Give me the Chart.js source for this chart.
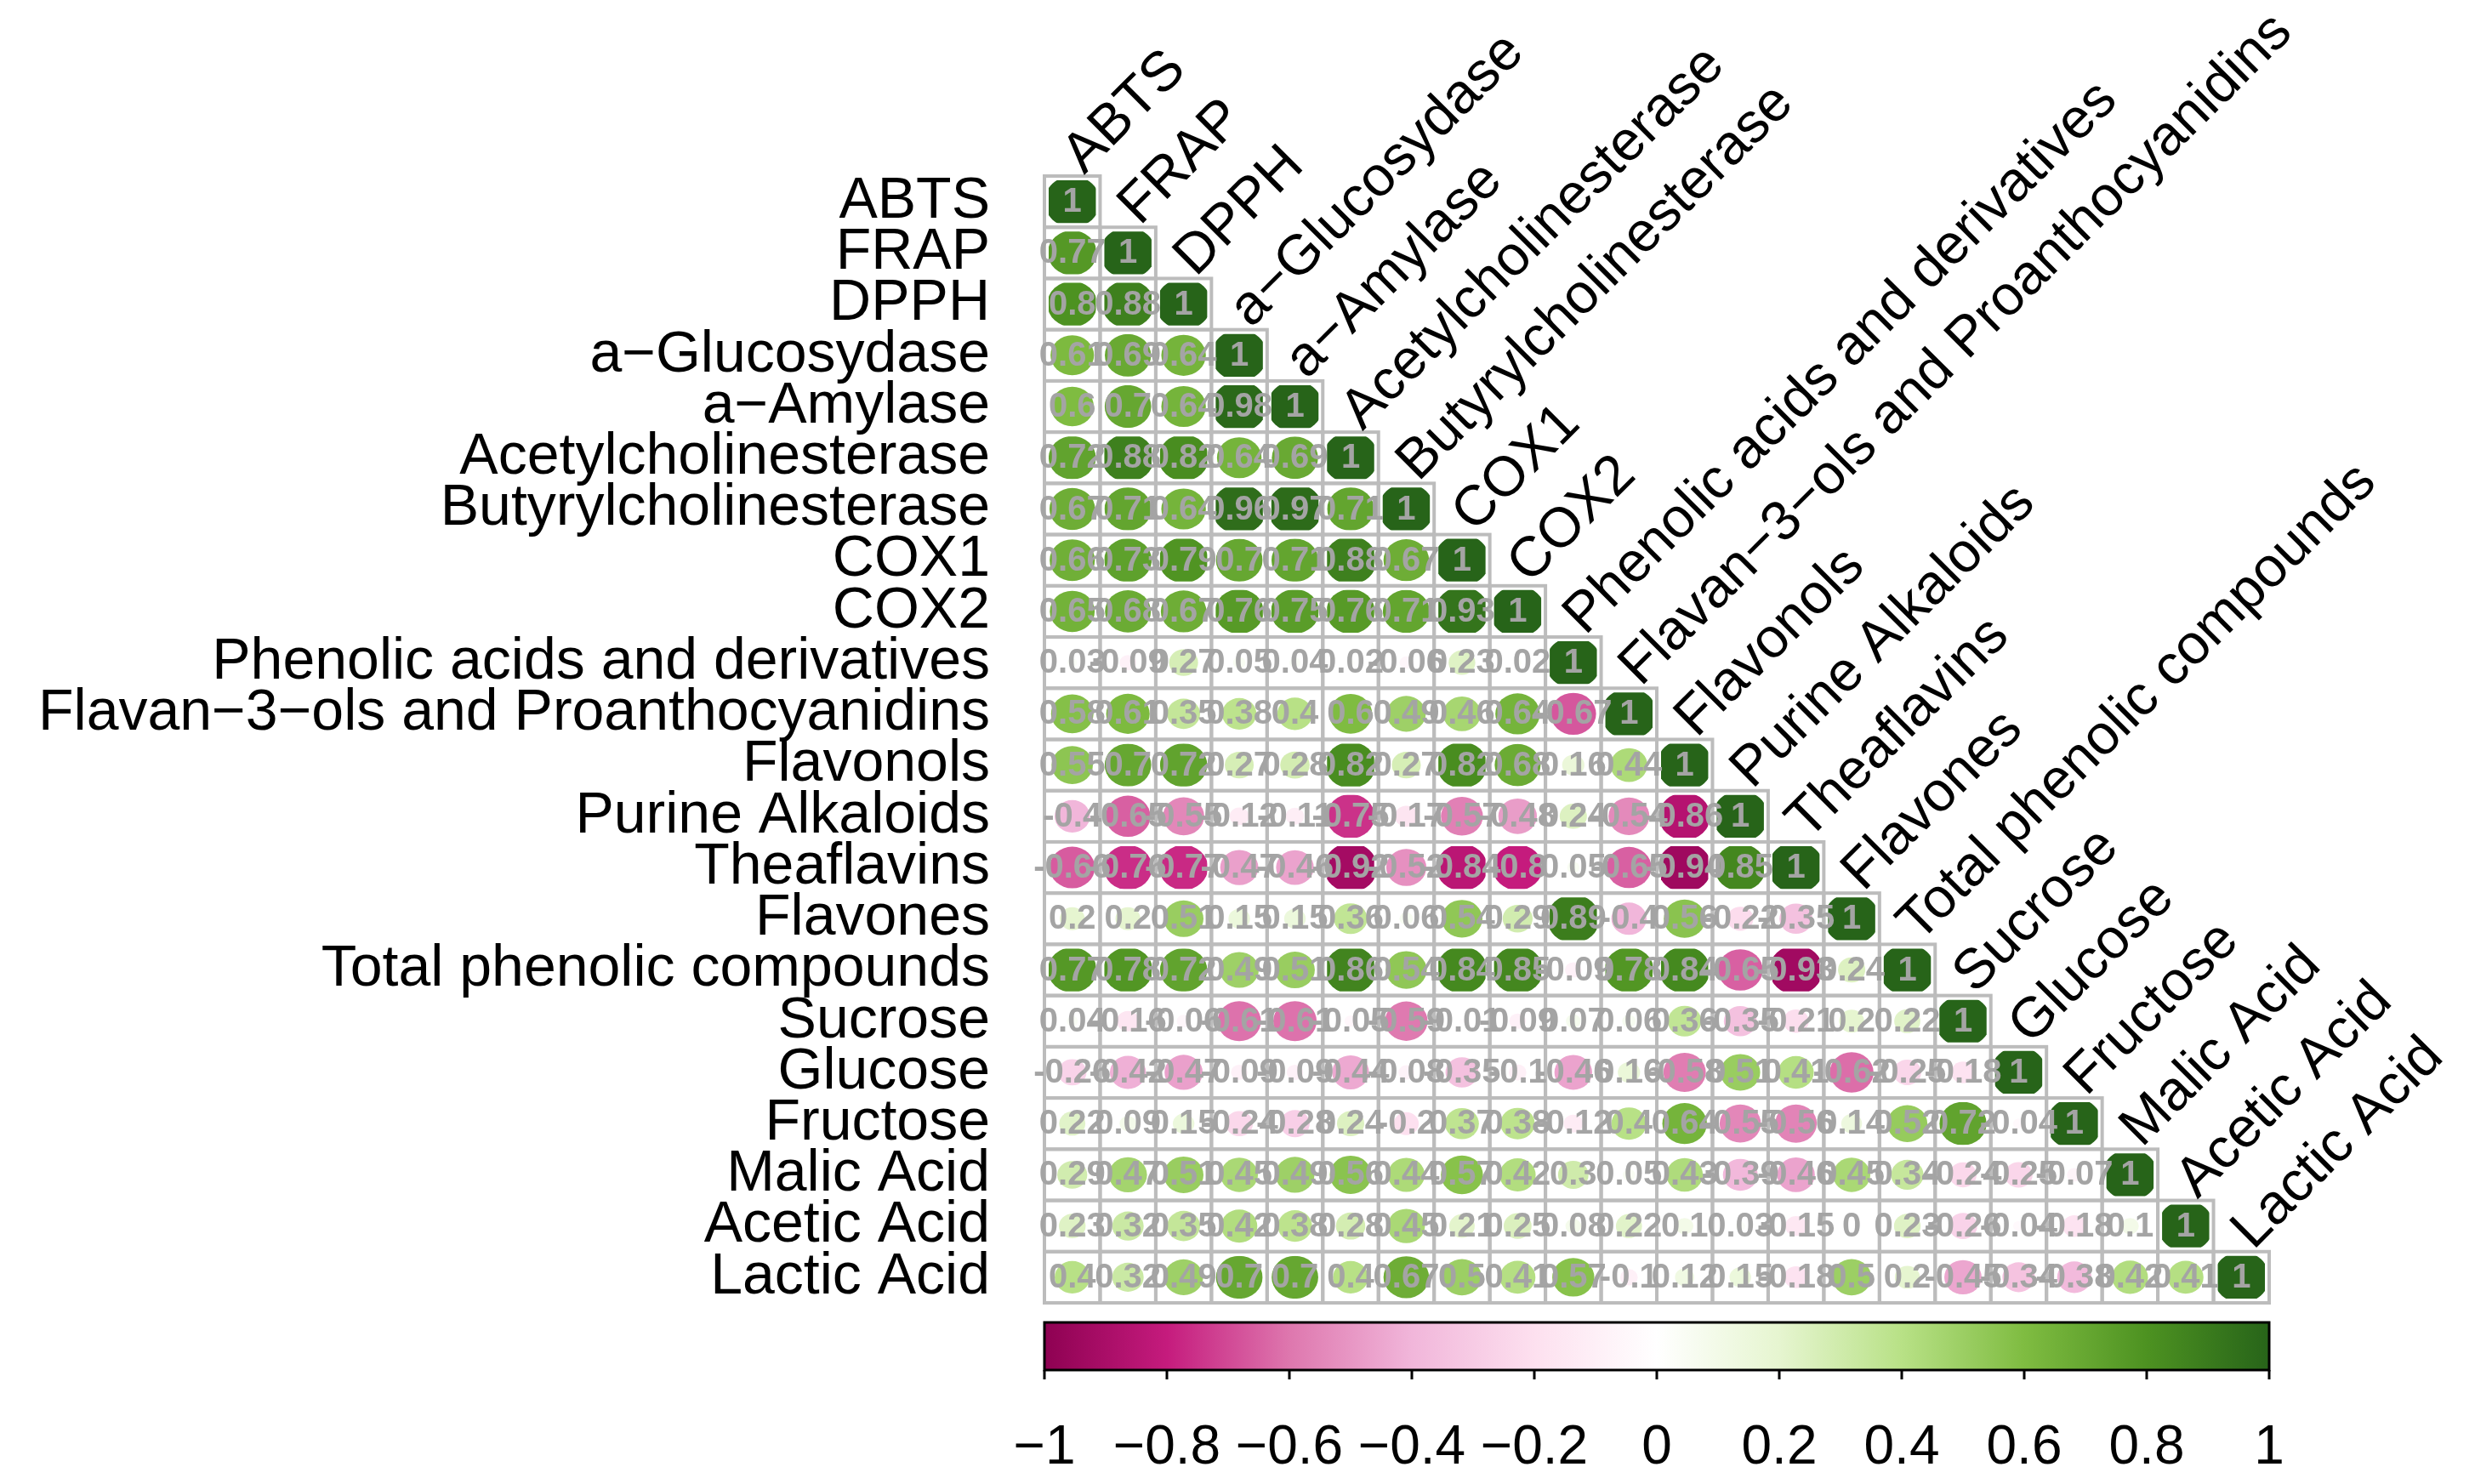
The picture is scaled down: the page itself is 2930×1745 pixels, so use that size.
<!DOCTYPE html>
<html>
<head>
<meta charset="utf-8">
<script src="https://cdn.jsdelivr.net/npm/chart.js@4.4.1/dist/chart.umd.min.js"></script>
<style>
  html, body { margin: 0; padding: 0; background: #fff; }
</style>
</head>
<body>
<canvas id="corrChart" width="2930" height="1745"></canvas>
<script>
// variable names, in row / column order
const variables = [
  'ABTS', 'FRAP', 'DPPH', 'a\u2212Glucosydase', 'a\u2212Amylase', 'Acetylcholinesterase',
  'Butyrylcholinesterase', 'COX1', 'COX2', 'Phenolic acids and derivatives',
  'Flavan\u22123\u2212ols and Proanthocyanidins', 'Flavonols', 'Purine Alkaloids', 'Theaflavins',
  'Flavones', 'Total phenolic compounds', 'Sucrose', 'Glucose', 'Fructose',
  'Malic Acid', 'Acetic Acid', 'Lactic Acid'
];

// lower triangle, one row per variable
const abts = [1];
const frap = [0.77, 1];
const dpph = [0.80, 0.88, 1];
const glucosydase = [0.61, 0.69, 0.64, 1];
const amylase = [0.60, 0.70, 0.64, 0.98, 1];
const acetylch = [0.72, 0.88, 0.82, 0.64, 0.69, 1];
const butyrylch = [0.67, 0.71, 0.64, 0.96, 0.97, 0.71, 1];
const cox1 = [0.66, 0.73, 0.79, 0.70, 0.71, 0.88, 0.67, 1];
const cox2 = [0.65, 0.68, 0.67, 0.76, 0.75, 0.76, 0.71, 0.93, 1];
const phenolicAcids = [0.03, -0.09, 0.27, 0.05, 0.04, 0.02, -0.06, 0.23, 0.02, 1];
const flavanols = [0.58, 0.61, 0.35, 0.38, 0.40, 0.60, 0.49, 0.46, 0.64, -0.67, 1];
const flavonols = [0.55, 0.70, 0.72, 0.27, 0.28, 0.82, 0.27, 0.82, 0.68, 0.16, 0.44, 1];
const purine = [-0.40, -0.65, -0.55, -0.12, -0.11, -0.75, -0.17, -0.57, -0.48, 0.24, -0.54, -0.86, 1];
const theaflavins = [-0.66, -0.76, -0.77, -0.47, -0.46, -0.92, -0.52, -0.84, -0.80, 0.05, -0.65, -0.94, 0.85, 1];
const flavones = [0.20, 0.20, 0.51, 0.15, 0.15, 0.36, 0.06, 0.54, 0.29, 0.89, -0.40, 0.56, -0.22, -0.35, 1];
const totalPhenolic = [0.77, 0.78, 0.72, 0.49, 0.51, 0.86, 0.54, 0.84, 0.85, -0.09, 0.78, 0.84, -0.65, -0.93, 0.24, 1];
const sucrose = [0.04, -0.16, -0.06, -0.61, -0.61, -0.05, -0.59, -0.01, -0.09, 0.07, 0.06, 0.36, -0.35, -0.21, 0.20, 0.22, 1];
const glucose = [-0.26, -0.42, -0.47, -0.09, -0.09, -0.44, -0.08, -0.35, -0.10, -0.46, 0.16, -0.58, 0.51, 0.41, -0.62, -0.25, -0.18, 1];
const fructose = [0.22, 0.09, 0.15, -0.24, -0.28, 0.24, -0.20, 0.37, 0.38, -0.12, 0.40, 0.64, -0.55, -0.56, 0.14, 0.52, 0.72, -0.04, 1];
const malicAcid = [0.29, 0.47, 0.51, 0.45, 0.49, 0.56, 0.44, 0.57, 0.42, 0.30, 0.05, 0.43, -0.39, -0.46, 0.45, 0.34, -0.24, -0.25, -0.07, 1];
const aceticAcid = [0.23, 0.32, 0.35, 0.42, 0.38, 0.28, 0.45, 0.21, 0.25, 0.08, 0.22, 0.10, 0.03, -0.15, 0.00, 0.23, -0.26, -0.04, -0.18, 0.10, 1];
const lacticAcid = [0.40, 0.32, 0.49, 0.70, 0.70, 0.40, 0.67, 0.50, 0.41, 0.57, -0.10, 0.12, 0.15, -0.18, 0.50, 0.20, -0.45, -0.34, -0.38, 0.42, 0.41, 1];

const corrRows = [abts, frap, dpph, glucosydase, amylase, acetylch, butyrylch, cox1, cox2,
  phenolicAcids, flavanols, flavonols, purine, theaflavins, flavones, totalPhenolic,
  sucrose, glucose, fructose, malicAcid, aceticAcid, lacticAcid];

// colour bar
const colorbarTicks = [-1, -0.8, -0.6, -0.4, -0.2, 0, 0.2, 0.4, 0.6, 0.8, 1];
const piyg = ['#8E0152', '#C51B7D', '#DE77AE', '#F1B6DA', '#FDE0EF', '#FFFFFF',
  '#E6F5D0', '#B8E186', '#7FBC41', '#4D9221', '#276419'];

const FONT = "'Liberation Sans', Arial, Helvetica, sans-serif";

function hexToRgb(h) {
  return [parseInt(h.slice(1, 3), 16), parseInt(h.slice(3, 5), 16), parseInt(h.slice(5, 7), 16)];
}

function colorFor(v) {
  const t = (v + 1) / 2 * (piyg.length - 1);
  const i = Math.min(Math.floor(t), piyg.length - 2);
  const f = t - i;
  const a = hexToRgb(piyg[i]), b = hexToRgb(piyg[i + 1]);
  const c = a.map((c0, k) => Math.round(c0 + (b[k] - c0) * f));
  return 'rgb(' + c.join(',') + ')';
}

function fmtNum(v) {
  return String(Math.round(v * 100) / 100);
}

const points = [];
corrRows.forEach((row, i) => {
  row.forEach((v, j) => points.push({ x: variables[j], y: variables[i], v: v }));
});

const corrPlugin = {
  id: 'corrCells',
  afterDatasetsDraw(chart) {
    const { ctx } = chart;
    const xs = chart.scales.x, ys = chart.scales.y;
    const meta = chart.getDatasetMeta(0);
    const cw = xs.width / variables.length;
    const ch = ys.height / variables.length;
    ctx.save();

    // cell borders
    ctx.strokeStyle = '#bcbcbc';
    ctx.lineWidth = 4;
    meta.data.forEach(pt => ctx.strokeRect(pt.x - cw / 2, pt.y - ch / 2, cw, ch));

    // circles (area ~ |r|), clipped to the cell
    const inset = 5;
    meta.data.forEach((pt, k) => {
      const v = points[k].v;
      const s = Math.sqrt(Math.abs(v));
      if (s <= 0) return;
      ctx.save();
      ctx.beginPath();
      ctx.rect(pt.x - cw / 2 + inset, pt.y - ch / 2 + inset, cw - 2 * inset, ch - 2 * inset);
      ctx.clip();
      ctx.beginPath();
      ctx.ellipse(pt.x, pt.y, 0.5 * cw * s, 0.5 * ch * s, 0, 0, Math.PI * 2);
      ctx.fillStyle = colorFor(v);
      ctx.fill();
      ctx.restore();
    });

    // coefficients
    ctx.fillStyle = '#a4a4a4';
    ctx.font = 'bold 40px ' + FONT;
    ctx.textAlign = 'center';
    ctx.textBaseline = 'middle';
    meta.data.forEach((pt, k) => ctx.fillText(fmtNum(points[k].v), pt.x, pt.y + 1));

    // diagonal column labels
    ctx.fillStyle = '#000';
    ctx.font = '66px ' + FONT;
    ctx.textAlign = 'left';
    ctx.textBaseline = 'alphabetic';
    variables.forEach((name, i) => {
      const px = xs.getPixelForValue(i) + 14;
      const py = ys.getPixelForValue(i) - ch / 2 - 1;
      ctx.save();
      ctx.translate(px, py);
      ctx.rotate(-Math.PI / 4);
      ctx.fillText(name, 0, 0);
      ctx.restore();
    });
    ctx.restore();
  },
  afterDraw(chart) {
    const { ctx } = chart;
    const cb = chart.scales.cb;
    const x0 = cb.getPixelForValue(-1), x1 = cb.getPixelForValue(1);
    const top = cb.top + 23, h = 56;
    ctx.save();
    const grad = ctx.createLinearGradient(x0, 0, x1, 0);
    piyg.forEach((c, i) => grad.addColorStop(i / (piyg.length - 1), c));
    ctx.fillStyle = grad;
    ctx.fillRect(x0, top, x1 - x0, h);
    ctx.strokeStyle = '#000';
    ctx.lineWidth = 3;
    ctx.strokeRect(x0, top, x1 - x0, h);
    ctx.beginPath();
    colorbarTicks.forEach(t => {
      const px = cb.getPixelForValue(t);
      ctx.moveTo(px, top + h);
      ctx.lineTo(px, top + h + 11);
    });
    ctx.stroke();
    ctx.restore();
  }
};

Chart.defaults.font.family = FONT;

new Chart(document.getElementById('corrChart'), {
  type: 'scatter',
  data: {
    datasets: [{ data: points, pointRadius: 0, pointHoverRadius: 0, xAxisID: 'x', yAxisID: 'y' }]
  },
  options: {
    responsive: false,
    animation: false,
    devicePixelRatio: 1,
    layout: { padding: { top: 207, right: 262, left: 0, bottom: 0 } },
    plugins: { legend: { display: false }, tooltip: { enabled: false } },
    scales: {
      x: { type: 'category', labels: variables, offset: true, display: false },
      y: {
        type: 'category',
        labels: variables,
        offset: true,
        position: 'left',
        grid: { display: false },
        border: { display: false },
        ticks: { autoSkip: false, color: '#000', font: { size: 68 }, padding: 56 },
        afterFit: scale => { scale.width = 1228; }
      },
      cb: {
        type: 'linear',
        position: 'bottom',
        min: -1,
        max: 1,
        grid: { display: false },
        border: { display: false },
        ticks: {
          stepSize: 0.2,
          autoSkip: false,
          maxRotation: 0,
          color: '#000',
          font: { size: 64 },
          padding: 125,
          callback: v => String(Math.round(v * 10) / 10).replace('-', '\u2212')
        },
        afterFit: scale => { scale.height = 213; }
      }
    }
  },
  plugins: [corrPlugin]
});
</script>
</body>
</html>
